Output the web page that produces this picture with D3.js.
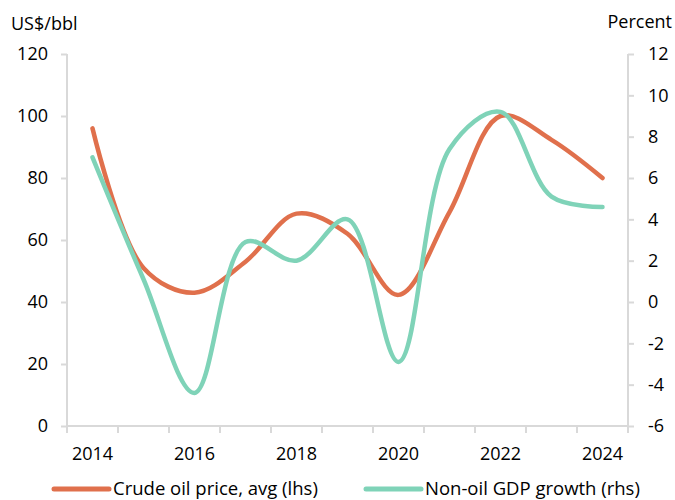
<!DOCTYPE html>
<html>
<head>
<meta charset="utf-8">
<script src="https://cdn.jsdelivr.net/npm/d3@7"></script>
<style>
  body { margin: 0; background: #fff; }
  svg text { font-family: "Open Sans", sans-serif; fill: #000; }
</style>
</head>
<body>
<div id="chart"></div>
<script>
// data
var years = [2014, 2015, 2016, 2017, 2018, 2019, 2020, 2021, 2022, 2023, 2024];
var oilPrice = [96, 51, 43, 53, 68.5, 62, 42.3, 69, 100, 92.3, 80];
var nonOilGdp = [7.0, 1.1, -4.4, 2.9, 2.0, 4.0, -2.9, 7.4, 9.2, 5.1, 4.6];
var yearLabels = [2014, 2016, 2018, 2020, 2022, 2024];
var leftTicks = [0, 20, 40, 60, 80, 100, 120];
var rightTicks = [-6, -4, -2, 0, 2, 4, 6, 8, 10, 12];

var width = 675, height = 500;
var plot = { left: 67, right: 628, top: 54, bottom: 426 };
var orange = "#e0704c", green = "#7fd3b8", axisGrey = "#d9d9d9";

var svg = d3.select("#chart").append("svg")
    .attr("width", width)
    .attr("height", height);

var x = d3.scaleBand().domain(years).range([plot.left, plot.right]).paddingInner(0).paddingOuter(0);
var yL = d3.scaleLinear().domain([0, 120]).range([plot.bottom, plot.top]);
var yR = d3.scaleLinear().domain([-6, 12]).range([plot.bottom, plot.top]);
var cx = function(d) { return x(d) + x.bandwidth() / 2; };

//left axis
var leftAxis = svg.append("g")
    .attr("transform", "translate(" + plot.left + ",0)")
    .call(d3.axisLeft(yL).tickValues(leftTicks).tickSize(6).tickPadding(13));
//right axis (plain hyphen for negatives, like the original)
var rightAxis = svg.append("g")
    .attr("transform", "translate(" + plot.right + ",0)")
    .call(d3.axisRight(yR).tickValues(rightTicks).tickSize(6).tickPadding(14).tickFormat(function(d) { return String(d); }));
//bottom axis, ticks between categories
var bottomAxis = svg.append("g")
    .attr("transform", "translate(0," + plot.bottom + ")")
    .call(d3.axisBottom(x).tickValues(yearLabels).tickSize(0).tickPadding(21));

svg.append("g").selectAll("line")
    .data(years.concat([null]))
    .enter().append("line")
    .attr("x1", function(d, i) { return plot.left + i * x.bandwidth(); })
    .attr("x2", function(d, i) { return plot.left + i * x.bandwidth(); })
    .attr("y1", plot.bottom)
    .attr("y2", plot.bottom + 7)
    .attr("stroke", axisGrey)
    .attr("stroke-width", 2);

[leftAxis, rightAxis, bottomAxis].forEach(function(a) {
    a.select(".domain").attr("stroke", axisGrey).attr("stroke-width", 2);
    a.selectAll(".tick line").attr("stroke", axisGrey).attr("stroke-width", 2);
    a.selectAll("text").style("font-size", "18px").style("font-family", "'Open Sans', sans-serif").attr("fill", "#000");
});
leftAxis.select(".domain").attr("d", "M0," + plot.top + "V" + plot.bottom);
rightAxis.select(".domain").attr("d", "M0," + plot.top + "V" + plot.bottom);
bottomAxis.select(".domain").attr("d", "M" + plot.left + ",0H" + plot.right);

//unit labels
svg.append("text").attr("x", 11).attr("y", 30).style("font-size", "18px").text("US$/bbl");
svg.append("text").attr("x", 672).attr("y", 28).attr("text-anchor", "end").style("font-size", "18px").text("Percent");

//lines
var lineL = d3.line()
    .x(function(d, i) { return cx(years[i]); })
    .y(function(d) { return yL(d); })
    .curve(d3.curveCatmullRom.alpha(0.5));
var lineR = d3.line()
    .x(function(d, i) { return cx(years[i]); })
    .y(function(d) { return yR(d); })
    .curve(d3.curveCatmullRom.alpha(0.5));

svg.append("path").datum(oilPrice)
    .attr("d", lineL)
    .attr("fill", "none")
    .attr("stroke", orange)
    .attr("stroke-width", 4.5)
    .attr("stroke-linecap", "round");

svg.append("path").datum(nonOilGdp)
    .attr("d", lineR)
    .attr("fill", "none")
    .attr("stroke", green)
    .attr("stroke-width", 4.5)
    .attr("stroke-linecap", "round");

//legend
var legend = [
    { name: "Crude oil price, avg (lhs)", color: orange, x: 54 },
    { name: "Non-oil GDP growth (rhs)", color: green, x: 366 }
];
var lg = svg.selectAll(".legend").data(legend).enter().append("g").attr("class", "legend");
lg.append("line")
    .attr("x1", function(d) { return d.x; })
    .attr("x2", function(d) { return d.x + 55; })
    .attr("y1", 489).attr("y2", 489)
    .attr("stroke", function(d) { return d.color; })
    .attr("stroke-width", 5)
    .attr("stroke-linecap", "round");
lg.append("text")
    .attr("x", function(d) { return d.x + 59; })
    .attr("y", 495)
    .style("font-size", "18.5px")
    .text(function(d) { return d.name; });
</script>
</body>
</html>
